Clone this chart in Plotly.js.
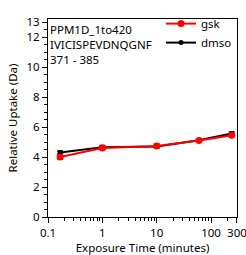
<!DOCTYPE html>
<html>
<head>
<meta charset="utf-8">
<script src="https://cdn.plot.ly/plotly-3.0.1.min.js"></script>
<style>html,body{margin:0;padding:0;background:#fff;}#chart{width:246px;height:255px;}</style>
</head>
<body>
<div id="chart"></div>
<script>
// Exposure times (minutes)
const times = [0.167, 1, 10, 60, 240];
// Relative uptake (Da)
const gskUptake = [4.00, 4.60, 4.73, 5.10, 5.45];
const gskError = [0.12, 0.06, 0.12, 0.08, 0.08];
const dmsoUptake = [4.30, 4.65, 4.70, 5.12, 5.57];
const dmsoError = [0.10, 0.12, 0.05, 0.08, 0.10];
const seriesNames = ['gsk', 'dmso'];
const xTickVals = [0.1, 1, 10, 100, 300];
const xTickText = ['0.1', '1', '10', '100', '300'];
const xMinorVals = [0.2,0.3,0.4,0.5,0.6,0.7,0.8,0.9,2,3,4,5,6,7,8,9,20,30,40,50,60,70,80,90,200];
const yTickVals = [0, 2, 4, 6, 8, 10, 12, 13];
const infoLines = ['PPM1D_1to420', 'IVICISPEVDNQGNF', '371 - 385'];

const FONT = 'Noto Sans, sans-serif';
const FS = 11.5;

const traces = [
  {
    x: times, y: dmsoUptake, name: seriesNames[1], type: 'scatter', mode: 'lines+markers',
    line: {color: '#000000', width: 2},
    marker: {color: '#000000', size: 5},
    error_y: {type: 'data', array: dmsoError, visible: true, color: '#000000', thickness: 1.5, width: 3}
  },
  {
    x: times, y: gskUptake, name: seriesNames[0], type: 'scatter', mode: 'lines+markers',
    line: {color: '#ff0000', width: 2},
    marker: {color: '#ff0000', size: 7},
    error_y: {type: 'data', array: gskError, visible: true, color: '#ff0000', thickness: 2, width: 3}
  }
];

const layout = {
  width: 246, height: 255,
  margin: {l: 48, r: 9, t: 13, b: 38},
  paper_bgcolor: '#ffffff', plot_bgcolor: '#ffffff',
  font: {family: FONT, size: FS, color: '#000000'},
  showlegend: true,
  legend: {
    traceorder: 'reversed', x: 1, xanchor: 'right', y: 1.05, yanchor: 'top',
    bgcolor: 'rgba(0,0,0,0)', font: {family: FONT, size: FS, color: '#000'},
    itemwidth: 30, tracegroupgap: 0
  },
  xaxis: {
    type: 'log', range: [-1.0, 2.4775],
    tickmode: 'array', tickvals: xTickVals, ticktext: xTickText,
    ticklabeloverflow: 'allow',
    ticks: 'outside', ticklen: 5, tickwidth: 1, tickcolor: '#000',
    minor: {tickmode: 'array', tickvals: xMinorVals, ticks: 'outside', ticklen: 3, tickwidth: 1, tickcolor: '#000'},
    showline: true, linecolor: '#000', linewidth: 1, mirror: true,
    showgrid: false, zeroline: false,
    tickfont: {family: FONT, size: FS},
    title: {text: 'Exposure Time (minutes)', font: {family: FONT, size: FS}, standoff: 9}
  },
  yaxis: {
    range: [0, 13.2],
    tickmode: 'array', tickvals: yTickVals,
    ticks: 'outside', ticklen: 5, tickwidth: 1, tickcolor: '#000',
    minor: {dtick: 0.5, ticks: 'outside', ticklen: 3, tickwidth: 1, tickcolor: '#000'},
    showline: true, linecolor: '#000', linewidth: 1, mirror: true,
    showgrid: false, zeroline: false,
    tickfont: {family: FONT, size: FS},
    title: {text: 'Relative Uptake (Da)', font: {family: FONT, size: FS}, standoff: 6}
  },
  annotations: [{
    xref: 'paper', yref: 'paper', x: 0, y: 1, xanchor: 'left', yanchor: 'top',
    text: infoLines.join('<br>'), align: 'left', showarrow: false,
    font: {family: FONT, size: FS, color: '#000'}, xshift: 0, yshift: -1
  }]
};

Plotly.newPlot('chart', traces, layout, {staticPlot: true, displayModeBar: false});
</script>
</body>
</html>
